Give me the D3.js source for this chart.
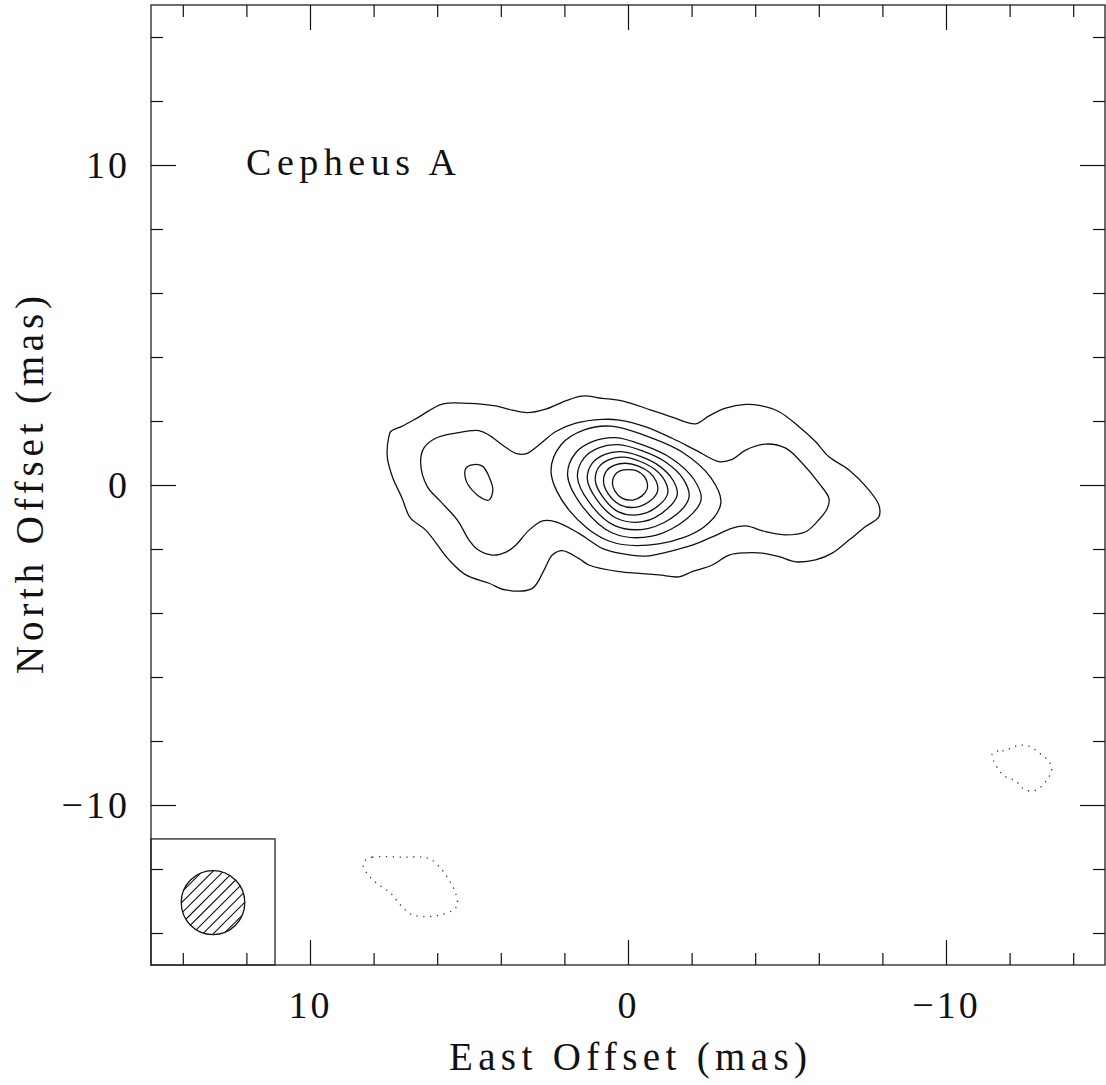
<!DOCTYPE html>
<html lang="en">
<head>
	<meta charset="utf-8">
	<title>Cepheus A - contour map</title>
	<script src="https://d3js.org/d3.v7.min.js"></script>
	<style>
		body { margin: 0; background: #fff; }
	</style>
</head>
<body>
	<div id="chart"></div>
	<script>
		// ticks (mas)
		let majorTicks = [10, 0, -10];
		let majorTickLabels = ["10", "0", "\u221210"];
		let minorTicks = [-14, -12, -8, -6, -4, -2, 2, 4, 6, 8, 12, 14];

		let sourceName = "Cepheus A";
		let sourceLabelPos = [11.5, 10];

		// restoring beam (mas) and the box round it
		let beamCentre = [13.05, -13.05];
		let beamDiameter = [2.0, 2.0];
		let beamBoxCorner = [11.1, -11.06];

		// contours, [east offset, north offset] in mas
		let contourLevel1 = [
			[7.46,1.67],[7.10,1.84],[6.57,2.13],[5.84,2.53],[5.00,2.55],[4.16,2.47],[3.64,2.34],[3.17,2.26],
			[2.59,2.37],[1.96,2.63],[1.44,2.78],[0.81,2.71],[0.18,2.63],[-0.70,2.35],[-1.39,2.12],[-2.13,1.91],
			[-2.55,2.16],[-3.07,2.40],[-3.70,2.52],[-4.12,2.49],[-4.75,2.29],[-5.38,1.82],[-5.90,1.35],[-6.32,0.88],
			[-6.95,0.47],[-7.58,-0.16],[-7.89,-0.63],[-7.89,-0.99],[-7.47,-1.30],[-6.95,-1.72],[-6.42,-2.13],[-5.90,-2.34],
			[-5.27,-2.40],[-4.75,-2.24],[-4.22,-2.13],[-3.70,-2.12],[-3.18,-2.19],[-2.65,-2.50],[-2.02,-2.71],[-1.60,-2.87],
			[-0.97,-2.81],[-0.35,-2.76],[0.28,-2.71],[1.23,-2.50],[1.54,-2.30],[2.07,-2.05],[2.38,-2.19],[2.64,-2.66],
			[3.01,-3.23],[3.85,-3.28],[4.37,-3.07],[5.10,-2.81],[5.63,-2.34],[6.36,-1.41],[6.85,-1.02],[7.10,-0.42],
			[7.41,0.26],[7.57,0.88],[7.52,1.51]
		];
		let contourLevel2 = [
			[6.52,0.68],[6.42,1.15],[6.05,1.46],[5.42,1.62],[4.69,1.70],[4.37,1.56],[3.95,1.25],[3.53,0.99],
			[3.22,0.97],[2.80,1.25],[2.27,1.67],[1.64,1.93],[0.81,2.05],[0.28,2.03],[-0.56,1.82],[-1.39,1.46],
			[-2.13,1.09],[-2.86,0.73],[-3.28,0.80],[-3.70,1.09],[-4.33,1.28],[-4.96,1.15],[-5.48,0.68],[-6.01,0.05],
			[-6.32,-0.42],[-6.27,-0.73],[-5.90,-1.20],[-5.59,-1.46],[-4.96,-1.56],[-4.33,-1.46],[-3.70,-1.28],[-3.28,-1.35],
			[-2.65,-1.62],[-2.02,-1.88],[-1.29,-2.08],[-0.56,-2.22],[0.28,-2.13],[0.81,-1.98],[1.54,-1.51],[2.27,-1.15],
			[2.69,-1.12],[3.11,-1.41],[3.53,-1.88],[3.80,-2.08],[4.27,-2.19],[4.74,-2.01],[5.00,-1.72],[5.37,-1.09],
			[5.89,-0.52],[6.31,-0.05]
		];
		let contourIsland = [
			[5.10,0.52],[4.90,0.63],[4.58,0.59],[4.37,0.26],[4.25,-0.16],[4.37,-0.47],[4.58,-0.42],[4.90,-0.16],[5.10,0.16]
		];
		let core1 = [[2.42,0.41],[2.11,1.25],[1.38,1.72],[0.53,1.84],[-0.50,1.56],[-1.70,1.03],[-2.61,0.22],[-2.92,-0.56],[-2.39,-1.31],[-0.97,-1.84],[0.60,-1.75],[1.86,-0.78]];
		let core2 = [[1.90,0.31],[1.65,1.00],[1.08,1.37],[0.39,1.48],[-0.44,1.26],[-1.37,0.83],[-2.07,0.18],[-2.30,-0.44],[-1.86,-1.05],[-0.75,-1.60],[0.49,-1.50],[1.47,-0.62]];
		let core3 = [[1.59,0.26],[1.38,0.85],[0.90,1.17],[0.31,1.26],[-0.41,1.08],[-1.19,0.71],[-1.75,0.17],[-1.92,-0.38],[-1.55,-0.90],[-0.62,-1.36],[0.42,-1.27],[1.23,-0.53]];
		let core4 = [[1.28,0.20],[1.11,0.70],[0.72,0.96],[0.22,1.04],[-0.37,0.90],[-0.99,0.59],[-1.42,0.14],[-1.55,-0.30],[-1.24,-0.74],[-0.49,-1.14],[0.36,-1.04],[1.00,-0.43]];
		let core5 = [[1.03,0.16],[0.90,0.58],[0.57,0.80],[0.15,0.87],[-0.35,0.75],[-0.84,0.49],[-1.16,0.13],[-1.25,-0.25],[-0.99,-0.62],[-0.39,-0.92],[0.30,-0.84],[0.81,-0.35]];
		let core6 = [[0.77,0.11],[0.67,0.45],[0.42,0.62],[0.08,0.68],[-0.31,0.60],[-0.68,0.39],[-0.89,0.11],[-0.93,-0.19],[-0.72,-0.48],[-0.28,-0.69],[0.25,-0.62],[0.62,-0.28]];
		let core7 = [[0.49,0.06],[0.42,0.31],[0.25,0.44],[0.00,0.48],[-0.28,0.44],[-0.50,0.28],[-0.60,0.09],[-0.60,-0.13],[-0.44,-0.34],[-0.16,-0.47],[0.19,-0.41],[0.41,-0.19]];
		// negative contours (dotted)
		let negativeSouth = [
			[8.25,-11.72],[8.04,-11.63],[7.10,-11.63],[6.47,-11.63],[6.20,-11.70],[5.89,-11.98],[5.63,-12.34],[5.42,-12.76],
			[5.37,-13.13],[5.53,-13.30],[5.94,-13.44],[6.42,-13.49],[6.83,-13.41],[7.15,-13.13],[7.46,-12.76],[7.83,-12.50],
			[8.14,-12.22],[8.33,-11.88]
		];
		let negativeWest = [
			[-11.56,-8.33],[-11.77,-8.31],[-11.98,-8.25],[-12.19,-8.16],[-12.40,-8.13],[-12.61,-8.16],[-12.82,-8.28],[-12.98,-8.41],
			[-13.15,-8.54],[-13.29,-8.73],[-13.32,-8.93],[-13.24,-9.12],[-13.11,-9.30],[-12.95,-9.46],[-12.74,-9.56],[-12.45,-9.51],
			[-12.30,-9.35],[-12.14,-9.22],[-11.93,-9.15],[-11.74,-9.01],[-11.61,-8.83],[-11.51,-8.65],[-11.44,-8.44]
		];

		let positiveContours = [contourLevel1, contourLevel2, contourIsland, core1, core2, core3, core4, core5, core6, core7];
		let negativeContours = [negativeSouth, negativeWest];

		let width = 1106;
		let height = 1085;
		let font = "'Liberation Serif', 'DejaVu Serif', serif";

		let x = d3.scaleLinear().domain([15, -15]).range([151, 1105]);
		let y = d3.scaleLinear().domain([-15, 15]).range([965, 5]);

		let svg = d3.select("#chart")
			.append("svg")
			.attr("width", width)
			.attr("height", height);

		// frame
		svg.append("rect")
			.attr("x", x(15)).attr("y", y(15))
			.attr("width", x(-15) - x(15)).attr("height", y(-15) - y(15))
			.attr("fill", "none")
			.attr("stroke", "#222")
			.attr("stroke-width", 1.3);

		// axes: major ticks with labels bottom/left, bare ticks top/right
		function styleAxis(g) {
			g.select(".domain").remove();
			g.attr("font-size", 38).attr("font-family", font);
			g.selectAll(".tick line").attr("stroke", "#111").attr("stroke-width", 1.2);
			g.selectAll("text").attr("fill", "#111").style("letter-spacing", "3px");
		}
		svg.append("g")
			.attr("transform", `translate(0,${y(-15)})`)
			.call(d3.axisBottom(x).tickValues(majorTicks).tickFormat((d, i) => majorTickLabels[i])
				.tickSizeInner(-25).tickSizeOuter(0).tickPadding(26))
			.call(styleAxis);
		svg.append("g")
			.attr("transform", `translate(${x(15)},0)`)
			.call(d3.axisLeft(y).tickValues(majorTicks).tickFormat((d, i) => majorTickLabels[i])
				.tickSizeInner(-25).tickSizeOuter(0).tickPadding(21))
			.call(styleAxis);
		svg.append("g")
			.attr("transform", `translate(0,${y(15)})`)
			.call(d3.axisTop(x).tickValues(majorTicks).tickFormat("").tickSizeInner(-25).tickSizeOuter(0))
			.call(styleAxis);
		svg.append("g")
			.attr("transform", `translate(${x(-15)},0)`)
			.call(d3.axisRight(y).tickValues(majorTicks).tickFormat("").tickSizeInner(-25).tickSizeOuter(0))
			.call(styleAxis);
		// minor ticks on all four sides
		svg.append("g").attr("transform", `translate(0,${y(-15)})`)
			.call(d3.axisBottom(x).tickValues(minorTicks).tickFormat("").tickSizeInner(-12).tickSizeOuter(0)).call(styleAxis);
		svg.append("g").attr("transform", `translate(0,${y(15)})`)
			.call(d3.axisTop(x).tickValues(minorTicks).tickFormat("").tickSizeInner(-12).tickSizeOuter(0)).call(styleAxis);
		svg.append("g").attr("transform", `translate(${x(15)},0)`)
			.call(d3.axisLeft(y).tickValues(minorTicks).tickFormat("").tickSizeInner(-12).tickSizeOuter(0)).call(styleAxis);
		svg.append("g").attr("transform", `translate(${x(-15)},0)`)
			.call(d3.axisRight(y).tickValues(minorTicks).tickFormat("").tickSizeInner(-12).tickSizeOuter(0)).call(styleAxis);

		// axis titles
		svg.append("text")
			.attr("x", x(0)).attr("y", 1070)
			.attr("text-anchor", "middle")
			.attr("font-family", font).attr("font-size", 39)
			.attr("textLength", 358).attr("lengthAdjust", "spacing")
			.attr("fill", "#111")
			.text("East Offset (mas)");
		svg.append("text")
			.attr("transform", `translate(43,${y(0)}) rotate(-90)`)
			.attr("text-anchor", "middle")
			.attr("font-family", font).attr("font-size", 39)
			.attr("textLength", 378).attr("lengthAdjust", "spacing")
			.attr("fill", "#111")
			.text("North Offset (mas)");

		// source name
		svg.append("text")
			.attr("x", 246).attr("y", y(sourceLabelPos[1]) + 10)
			.attr("font-family", font).attr("font-size", 38)
			.attr("textLength", 210).attr("lengthAdjust", "spacing")
			.attr("fill", "#111")
			.text(sourceName);

		// contours
		let line = d3.line()
			.x(d => x(d[0]))
			.y(d => y(d[1]))
			.curve(d3.curveCatmullRomClosed.alpha(0.5));

		svg.append("g").selectAll("path")
			.data(positiveContours)
			.enter()
			.append("path")
			.attr("d", line)
			.attr("fill", "none")
			.attr("stroke", "#111")
			.attr("stroke-width", 1.3);

		svg.append("g").selectAll("path")
			.data(negativeContours)
			.enter()
			.append("path")
			.attr("d", line)
			.attr("fill", "none")
			.attr("stroke", "#333")
			.attr("stroke-width", 1.3)
			.attr("stroke-dasharray", "1.3,5.5");

		// beam box
		svg.append("rect")
			.attr("x", x(15)).attr("y", y(beamBoxCorner[1]))
			.attr("width", x(beamBoxCorner[0]) - x(15))
			.attr("height", y(-15) - y(beamBoxCorner[1]))
			.attr("fill", "none")
			.attr("stroke", "#222")
			.attr("stroke-width", 1.3);

		let bx = x(beamCentre[0]);
		let by = y(beamCentre[1]);
		let rx = Math.abs(x(beamDiameter[0] / 2) - x(0));
		let ry = Math.abs(y(beamDiameter[1] / 2) - y(0));

		svg.append("clipPath").attr("id", "beamClip")
			.append("ellipse")
			.attr("cx", bx).attr("cy", by).attr("rx", rx).attr("ry", ry);

		// hatching "/" across the beam
		let hatch = svg.append("g").attr("clip-path", "url(#beamClip)");
		let spacing = 7.4;
		let s2 = Math.SQRT1_2;
		for (let i = -5; i <= 5; i++) {
			let px = bx + i * spacing * s2;
			let py = by + i * spacing * s2;
			hatch.append("line")
				.attr("x1", px - 50 * s2).attr("y1", py + 50 * s2)
				.attr("x2", px + 50 * s2).attr("y2", py - 50 * s2)
				.attr("stroke", "#111")
				.attr("stroke-width", 1.1);
		}

		svg.append("ellipse")
			.attr("cx", bx).attr("cy", by).attr("rx", rx).attr("ry", ry)
			.attr("fill", "none")
			.attr("stroke", "#111")
			.attr("stroke-width", 1.3);
	</script>
</body>
</html>
